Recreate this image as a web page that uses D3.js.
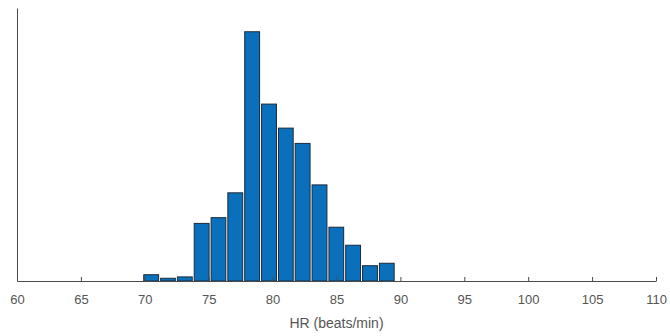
<!DOCTYPE html>
<html>
<head>
<meta charset="utf-8">
<script src="https://cdn.jsdelivr.net/npm/d3@7"></script>
<style>
  html, body { margin: 0; padding: 0; background: #fff; }
  svg { display: block; }
</style>
</head>
<body>
<svg id="chart" width="670" height="336"></svg>
<script>
// ---- data ----
const binEdges = [69.84, 71.16, 72.47, 73.79, 75.11, 76.42, 77.74, 79.06, 80.38, 81.69, 83.01, 84.33, 85.64, 86.96, 88.28, 89.59];
const binValues = [2.3, 1.0, 1.5, 21.1, 23.2, 32.3, 91.3, 64.8, 56.0, 50.4, 35.2, 19.7, 13.1, 5.6, 6.5];
const xTicks = [60, 65, 70, 75, 80, 85, 90, 95, 100, 105, 110];
const xLabel = "HR (beats/min)";

// ---- layout ----
const svg = d3.select("#chart");
const mLeft = 17, mRight = 656, mTop = 8, mBottom = 281;

const x = d3.scaleLinear().domain([60, 110]).range([mLeft, mRight]);
const y = d3.scaleLinear().domain([0, 100]).range([mBottom, mTop]);

const bins = binValues.map((v, i) => ({ x0: binEdges[i], x1: binEdges[i + 1], v }));

svg.append("g").selectAll("rect")
  .data(bins)
  .join("rect")
  .attr("x", d => x(d.x0) + 1)
  .attr("width", d => x(d.x1) - x(d.x0) - 2)
  .attr("y", d => y(d.v))
  .attr("height", d => y(0) - y(d.v))
  .attr("fill", "#0a70bb")
  .attr("stroke", "#1c2a3a")
  .attr("stroke-width", 1);

const axisColor = "#4a4a4a";

const gx = svg.append("g")
  .attr("transform", `translate(0,${mBottom})`)
  .call(d3.axisBottom(x).tickValues(xTicks).tickSizeInner(-4).tickSizeOuter(0).tickPadding(14));
gx.select(".domain").attr("stroke", axisColor);
gx.selectAll(".tick line").attr("stroke", axisColor);
gx.selectAll(".tick text")
  .attr("fill", "#555")
  .attr("font-family", "'Liberation Sans', Arial, sans-serif")
  .attr("font-size", 13);

const gy = svg.append("g")
  .attr("transform", `translate(${mLeft},0)`)
  .call(d3.axisLeft(y).tickValues([]).tickSizeOuter(0));
gy.select(".domain").attr("stroke", axisColor);

svg.append("text")
  .attr("x", (mLeft + mRight) / 2)
  .attr("y", 328)
  .attr("text-anchor", "middle")
  .attr("fill", "#555")
  .attr("font-family", "'Liberation Sans', Arial, sans-serif")
  .attr("font-size", 14)
  .text(xLabel);
</script>
</body>
</html>
